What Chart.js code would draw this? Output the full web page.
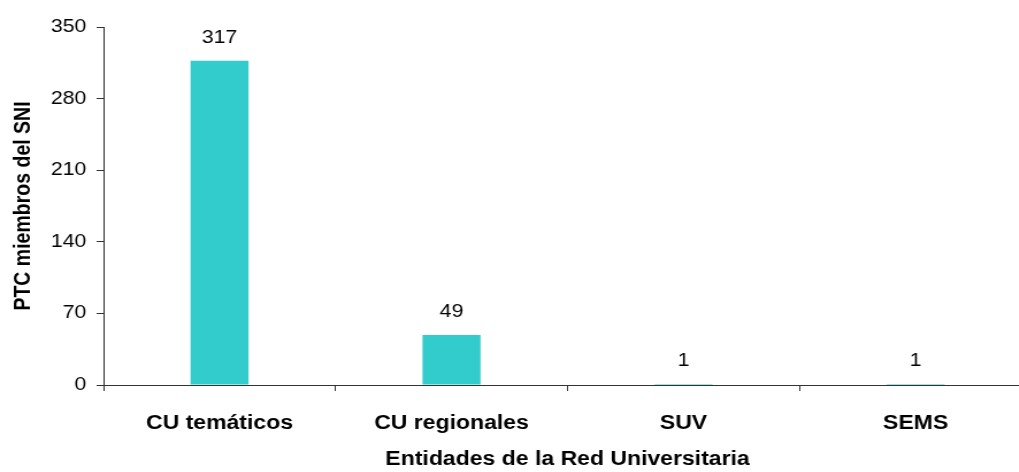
<!DOCTYPE html>
<html>
<head>
<meta charset="utf-8">
<script src="https://cdn.jsdelivr.net/npm/chart.js@4.4.1/dist/chart.umd.min.js"></script>
<style>
  html, body { margin: 0; padding: 0; overflow: hidden; background: #fff; width: 1019px; height: 472px; }
  #wrap { position: absolute; left: 0; top: 0; width: 897px; height: 472px; transform: scaleX(1.15); transform-origin: 0 0; }
</style>
</head>
<body>
<div id="wrap"><canvas id="c" width="897" height="472"></canvas></div>
<script>
const categories = ["CU temáticos", "CU regionales", "SUV", "SEMS"];
const values = [317, 49, 1, 1];
const yTicks = [0, 70, 140, 210, 280, 350];
const xTitle = "Entidades de la Red Universitaria";
const yTitle = "PTC miembros del SNI";

const FONT = "'Liberation Sans', Arial, Helvetica, sans-serif";

const dataLabels = {
  id: 'dataLabels',
  afterDatasetsDraw(chart) {
    const ctx = chart.ctx;
    const meta = chart.getDatasetMeta(0);
    ctx.save();
    ctx.font = "18.5px " + FONT;
    ctx.fillStyle = "#000";
    ctx.textAlign = "center";
    ctx.textBaseline = "alphabetic";
    meta.data.forEach((bar, i) => {
      ctx.fillText(String(chart.data.datasets[0].data[i]), bar.x, bar.y - 17.5);
    });
    ctx.restore();
  }
};

new Chart(document.getElementById('c'), {
  type: 'bar',
  data: {
    labels: categories,
    datasets: [{
      data: values,
      backgroundColor: '#33CCCC',
      borderWidth: 0,
      barPercentage: 0.25,
      categoryPercentage: 1.0
    }]
  },
  options: {
    responsive: false,
    animation: false,
    events: [],
    layout: { padding: { top: 27, left: 0, right: 0, bottom: 0 } },
    plugins: { legend: { display: false }, tooltip: { enabled: false }, title: { display: false } },
    scales: {
      x: {
        afterFit(scale) { scale.height = 87; },
        grid: { display: true, drawOnChartArea: false, drawTicks: true, tickLength: 6, color: '#333', offset: true },
        border: { display: true, color: '#333', width: 1 },
        ticks: { color: '#000', font: { family: FONT, size: 20, weight: 'bold' }, padding: 20, maxRotation: 0 },
        title: { display: true, text: xTitle, color: '#000', font: { family: FONT, size: 20, weight: 'bold' }, padding: { top: 0, bottom: 1 } }
      },
      y: {
        min: 0, max: 350,
        afterFit(scale) { scale.width = 90; },
        afterBuildTicks(scale) { scale.ticks = yTicks.map(v => ({ value: v })); },
        grid: { display: true, drawOnChartArea: false, drawTicks: true, tickLength: 6, color: '#333' },
        border: { display: true, color: '#333', width: 1 },
        ticks: { color: '#000', font: { family: FONT, size: 18.5 }, padding: 9 },
        title: { display: true, text: yTitle, color: '#000', font: { family: FONT, size: 19.5, weight: 'bold' }, padding: { top: 9, bottom: 0 } }
      }
    }
  },
  plugins: [dataLabels]
});
</script>
</body>
</html>
